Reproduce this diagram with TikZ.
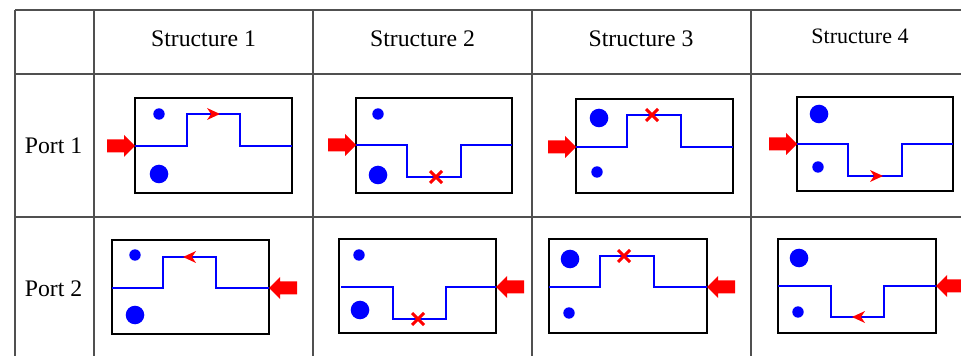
\documentclass[tikz,border=0pt]{standalone}
\usepackage{fontspec}
\setmainfont{Liberation Serif}
\tikzset{every picture/.style={line width=0.75pt}}
\tikzset{
gridline/.style={draw={rgb,255:red,80;green,80;blue,80}, line width=1.2},
devbox/.style={draw=black, line width=2.1},
guide/.style={draw=blue, line width=2},
headtext/.style={anchor=base, inner sep=0pt, font=\fontsize{17.8}{20}\selectfont},
feed/.pic={\fill[red] (-28,-6.5) -- (-11,-6.5) -- (-11,-11) -- (0,0) -- (-11,11) -- (-11,6.5) -- (-28,6.5) -- cycle ;},
flow/.pic={\fill[red] (0,0) -- (-13,-6) -- (-9,0) -- (-13,6) -- cycle ;},
block/.pic={\draw[red, line width=2.3] (-6,-6) -- (6,6) (-6,6) -- (6,-6) ;}}

\begin{document}
\begin{tikzpicture}[x=0.75pt,y=0.75pt,yscale=-1,xscale=1]
\useasboundingbox (0,0) rectangle (961,356); %same size as the table crop

%Table grid
\draw [gridline] (15,10) -- (961,10) (15,74) -- (961,74) (15,217) -- (961,217) ;
\draw [gridline] (15,10) -- (15,356) (94,10) -- (94,356) (313,10) -- (313,356) (532,10) -- (532,356) (751,10) -- (751,356) ;

%Headings
\node [headtext] (st1) at (203.5,46.7) {Structure 1};
\node [headtext] (st2) at (422.5,46.7) {Structure 2};
\node [headtext] (st3) at (641,46.7) {Structure 3};
\node [headtext, font=\fontsize{16.5}{19}\selectfont] (st4) at (860,44) {Structure 4};
\node [headtext] (p1) at (53.5,154) {Port 1};
\node [headtext] (p2) at (53.5,296.7) {Port 2};

%Port 1, Structure 1
\draw [devbox] (135,98) rectangle (292,193) ;
\draw [guide] (135,146) -- (187,146) -- (187,114) -- (240,114) -- (240,146) -- (292,146) ;
\fill [blue] (159,114) circle (5.7) (159,174) circle (9.3) ;
\pic at (220,114) {flow};
\pic at (135,146) {feed};
%Port 1, Structure 2
\draw [devbox] (356,98) rectangle (512,193) ;
\draw [guide] (356,145) -- (407,145) -- (407,177) -- (461,177) -- (461,145) -- (512,145) ;
\fill [blue] (378,114) circle (5.7) (378,175) circle (9.3) ;
\pic at (436,177) {block};
\pic at (356,145) {feed};
%Port 1, Structure 3
\draw [devbox] (576,99) rectangle (733,193) ;
\draw [guide] (576,147) -- (627,147) -- (627,115) -- (681,115) -- (681,147) -- (733,147) ;
\fill [blue] (599,118) circle (9.3) (597,172) circle (5.7) ;
\pic at (652,115) {block};
\pic at (576,147) {feed};
%Port 1, Structure 4
\draw [devbox] (797,97) rectangle (953,191) ;
\draw [guide] (797,144) -- (848,144) -- (848,176) -- (902,176) -- (902,144) -- (953,144) ;
\fill [blue] (819,114) circle (9.3) (818,167) circle (5.7) ;
\pic at (883,176) {flow};
\pic at (797,144) {feed};

%Port 2, Structure 1
\draw [devbox] (112,240) rectangle (269,334) ;
\draw [guide] (112,288) -- (163,288) -- (163,257) -- (216,257) -- (216,288) -- (269,288) ;
\fill [blue] (135,255) circle (5.7) (135,315) circle (9.3) ;
\pic [rotate=180] at (183,257) {flow};
\pic [rotate=180] at (269,288) {feed};
%Port 2, Structure 2
\draw [devbox] (339,239) rectangle (496,333) ;
\draw [guide] (341,287) -- (393,287) -- (393,319) -- (446,319) -- (446,287) -- (496,287) ;
\fill [blue] (359,255) circle (5.7) (360,310) circle (9.3) ;
\pic at (418,319) {block};
\pic [rotate=180] at (496,287) {feed};
%Port 2, Structure 3
\draw [devbox] (549,239) rectangle (707,333) ;
\draw [guide] (549,287) -- (600,287) -- (600,256) -- (654,256) -- (654,287) -- (707,287) ;
\fill [blue] (570,259) circle (9.3) (569,313) circle (5.7) ;
\pic at (624,256) {block};
\pic [rotate=180] at (707,287) {feed};
%Port 2, Structure 4
\draw [devbox] (778,239) rectangle (936,333) ;
\draw [guide] (778,286) -- (831,286) -- (831,317) -- (884,317) -- (884,286) -- (936,286) ;
\fill [blue] (799,258) circle (9.3) (798,312) circle (5.7) ;
\pic [rotate=180] at (852,317) {flow};
\pic [rotate=180] at (936,286) {feed};
\end{tikzpicture}
\end{document}
